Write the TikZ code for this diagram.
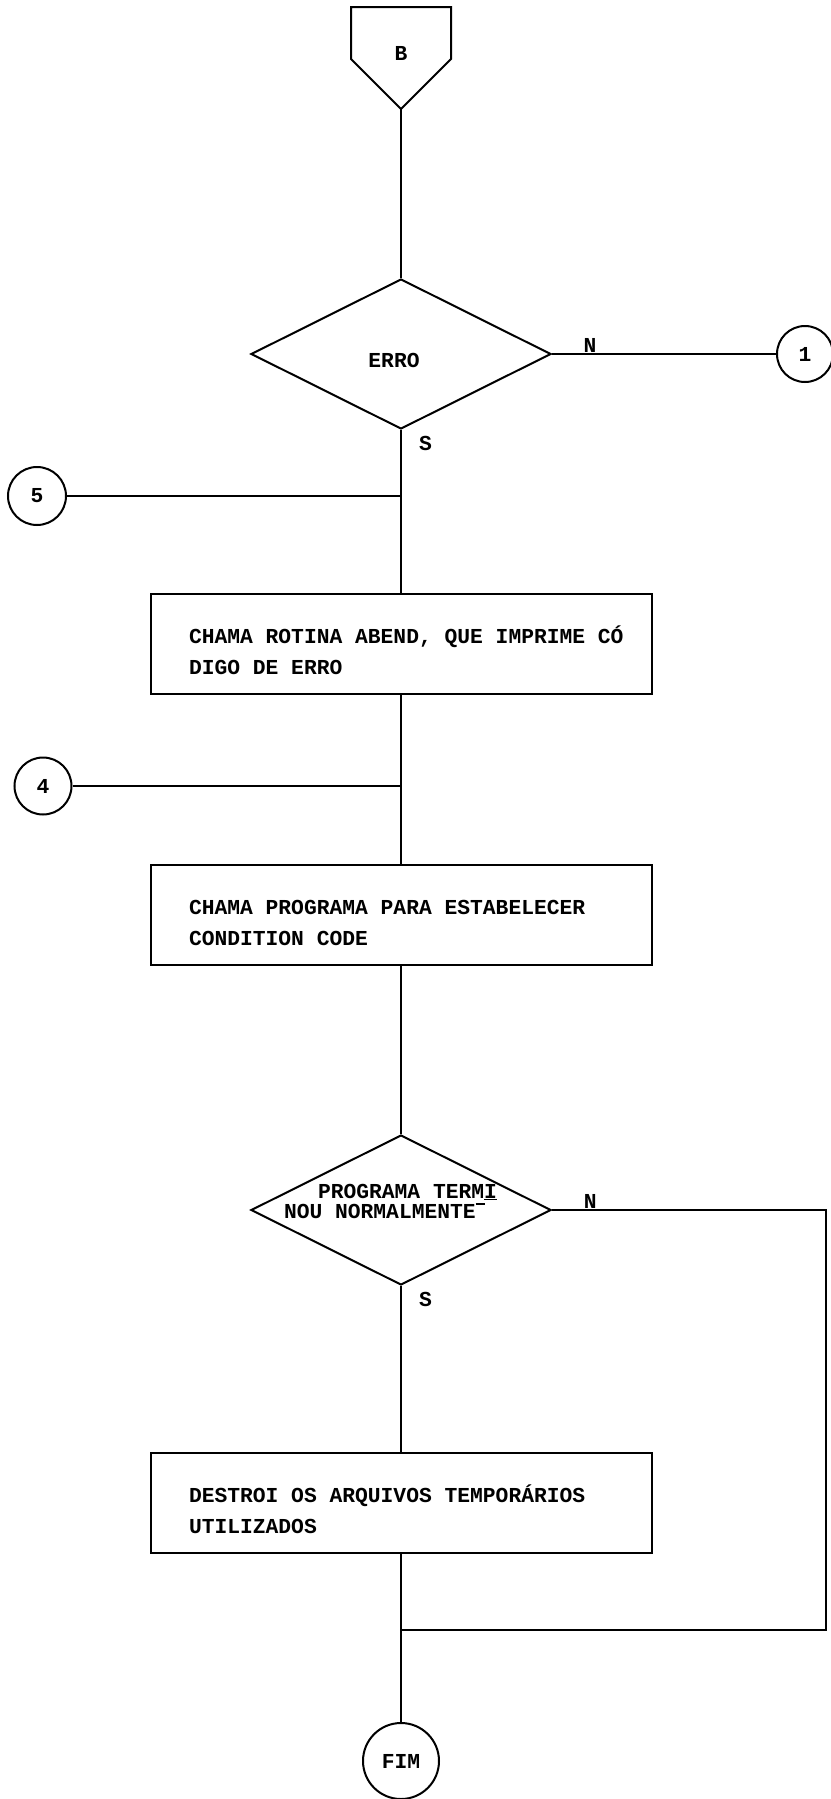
\documentclass[tikz,border=0pt]{standalone}
\usepackage{fontspec}
\setmonofont{Liberation Mono}
\usepackage{tikz}
\usetikzlibrary{shapes.geometric}
\newcommand{\hifen}{\rule[0.62em]{0.45em}{1.4pt}}
\newcommand{\espaco}{\spaceskip=0.6em\relax\xspaceskip=0.6em\relax}

\begin{document}
\begin{tikzpicture}[x=1pt,y=-1pt,line width=2pt,
  font=\ttfamily\bfseries\fontsize{21.3}{31}\selectfont,
  box/.style={draw,rectangle,minimum width=501,minimum height=100,text width=450,align=left,inner xsep=0pt,
    execute at begin node={\espaco\leftskip=13pt\rule{0pt}{31pt}}},
  decision/.style={draw,diamond,minimum width=300,minimum height=150,inner sep=0pt},
  conn/.style={draw,circle,inner sep=0pt},
  lbl/.style={inner sep=1pt}]
\useasboundingbox (0,0) rectangle (830,1799);

% conector de pagina
\coordinate (ptop) at (401,109);
\draw (351,7) -- (451,7) -- (451,59) -- (ptop) -- (351,59) -- cycle;
\node (B) at (401,53) {B};

% blocos
\node[decision] (erro) at (401,354) {};
\node (errotxt) at (394,360) {ERRO};
\node[conn,minimum size=56] (c1) at (805,354) {1};
\node[conn,minimum size=58] (c5) at (37,496) {5};
\node[box] (abend) at (401,644) {CHAMA ROTINA ABEND, QUE IMPRIME CÓ\\DIGO DE ERRO};
\node[conn,minimum size=57] (c4) at (43,786) {4};
\node[box] (cond) at (401,915) {CHAMA PROGRAMA PARA ESTABELECER\\CONDITION CODE};
\node[decision] (termi) at (401,1210) {};
\node[anchor=west,align=left,inner sep=0pt,font=\ttfamily\bfseries\fontsize{21.3}{20}\selectfont] (termitxt) at (283,1201)
  {\hspace*{34pt}PROGRAMA TERM\underline{I}\\NOU NORMALMENTE\hifen};
\node[box] (temp) at (401,1503) {DESTROI OS ARQUIVOS TEMPORÁRIOS\\UTILIZADOS};
\node[conn,minimum size=76] (fim) at (401,1761) {FIM};
\coordinate (rt) at (826,1630);
\coordinate (jn) at (401,1630);

% ligacoes
\draw (ptop) -- (erro.north);
\draw (erro.east) -- node[lbl,above,pos=0.17] (n1) {N} (c1.west);
\draw (erro.south) -- node[lbl,right=16pt,pos=0.085] (s1) {S} (abend.north);
\draw (c5.east) -- (c5.east -| erro.south);
\draw (abend.south) -- (cond.north);
\draw (c4.east) -- (c4.east -| abend.south);
\draw (cond.south) -- (termi.north);
\draw (termi.east) -- node[lbl,above,pos=0.14] (n2) {N} (termi.east -| rt) -- (rt) -- (jn);
\draw (termi.south) -- node[lbl,right=16pt,pos=0.08] (s2) {S} (temp.north);
\draw (temp.south) -- (fim.north);
\end{tikzpicture}
\end{document}
